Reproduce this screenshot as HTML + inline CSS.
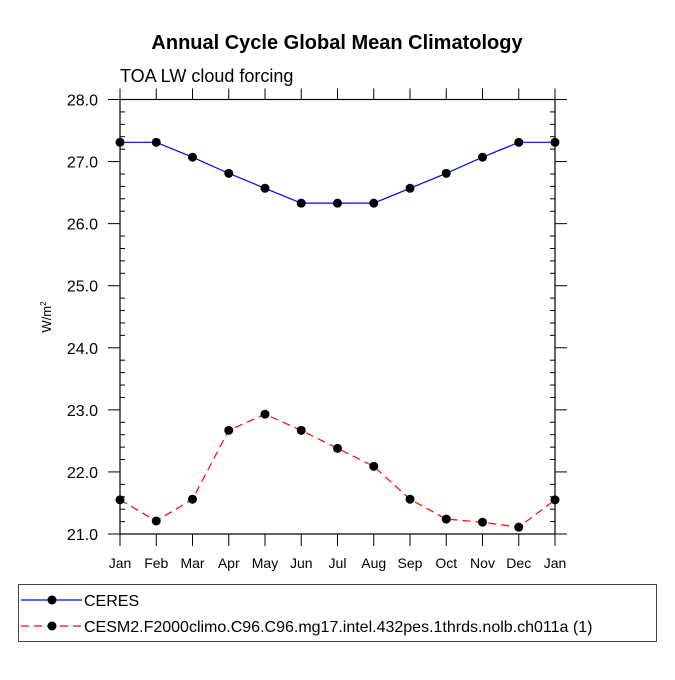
<!DOCTYPE html>
<html><head><meta charset="utf-8"><style>
body{margin:0;background:#fff;}
svg text{font-family:"Liberation Sans",Arial,sans-serif;}
</style></head><body>
<svg id="chart" width="675" height="675" xmlns="http://www.w3.org/2000/svg">
<text x="337" y="49" text-anchor="middle" font-size="20" font-weight="bold">Annual Cycle Global Mean Climatology</text>
<text x="120" y="82" font-size="18">TOA LW cloud forcing</text>
<g id="axes"></g>
<g id="series"></g>
<rect x="18.5" y="584.5" width="638" height="57" fill="none" stroke="#444" stroke-width="1"/>
<g>
<line x1="21" y1="600" x2="82" y2="600" stroke="#00f" stroke-width="1.2"/>
<circle cx="52" cy="600" r="4.5" fill="#000"/>
<text x="84" y="606" font-size="16">CERES</text>
</g>
<g>
<line x1="21" y1="626" x2="82" y2="626" stroke="#f00" stroke-width="1.2" stroke-dasharray="8,5"/>
<circle cx="52" cy="626" r="4.5" fill="#000"/>
<text x="84" y="632" font-size="16">CESM2.F2000climo.C96.C96.mg17.intel.432pes.1thrds.nolb.ch011a (1)</text>
</g>
</svg>
<script>
const months=["Jan","Feb","Mar","Apr","May","Jun","Jul","Aug","Sep","Oct","Nov","Dec","Jan"];
const yTicks=[21,22,23,24,25,26,27,28];
const yTickLabels=["21.0","22.0","23.0","24.0","25.0","26.0","27.0","28.0"];
const ceres=[27.31,27.31,27.07,26.81,26.57,26.33,26.33,26.33,26.57,26.81,27.07,27.31,27.31];
const cesm=[21.55,21.21,21.56,22.67,22.93,22.67,22.38,22.09,21.56,21.24,21.19,21.11,21.55];
const X0=120,X1=555,Y0=534,Y1=99.5,YMIN=21,YMAX=28;
const sx=i=>X0+(X1-X0)*i/(months.length-1);
const sy=v=>Y0-(Y0-Y1)*(v-YMIN)/(YMAX-YMIN);
const NS="http://www.w3.org/2000/svg";
function mk(tag,attrs,parent){const e=document.createElementNS(NS,tag);for(const k in attrs)e.setAttribute(k,attrs[k]);parent.appendChild(e);return e;}
const ax=document.getElementById('axes');
const frame=mk('rect',{x:X0,y:Y1,width:X1-X0,height:Y0-Y1,fill:'none',stroke:'#000','stroke-width':1.2},ax);


for(let v=YMIN;v<=YMAX+1e-9;v+=0.2){const y=sy(v);const major=Math.abs(v-Math.round(v))<1e-6;
 if(major){mk('line',{x1:X0-12,y1:y,x2:X0,y2:y,stroke:'#000'},ax);mk('line',{x1:X1,y1:y,x2:X1+12,y2:y,stroke:'#000'},ax);}
 else{mk('line',{x1:X0,y1:y,x2:X0+5,y2:y,stroke:'#000'},ax);mk('line',{x1:X1-5,y1:y,x2:X1,y2:y,stroke:'#000'},ax);}}
yTicks.forEach((v,i)=>{const t=mk('text',{x:98,y:sy(v)+6,'text-anchor':'end','font-size':16},ax);t.textContent=yTickLabels[i];

});
months.forEach((m,i)=>{const x=sx(i);mk('line',{x1:x,y1:Y0,x2:x,y2:Y0+12,stroke:'#000'},ax);mk('line',{x1:x,y1:Y1-11,x2:x,y2:Y1,stroke:'#000'},ax);
const t=mk('text',{x:x,y:568,'text-anchor':'middle','font-size':14},ax);t.textContent=m;

});
const yt=mk('text',{transform:'translate(51,317) rotate(-90)','text-anchor':'middle','font-size':13},ax);
yt.innerHTML='W/m<tspan font-size="8" dy="-5">2</tspan>';


const sg=document.getElementById('series');
function draw(vals,color,dash,name){const g=mk('g',{},sg);


mk('polyline',{points:vals.map((v,i)=>sx(i)+','+sy(v)).join(' '),fill:'none',stroke:color,'stroke-width':1.2,'stroke-dasharray':dash},g);
vals.forEach((v,i)=>{const c=mk('circle',{cx:sx(i),cy:sy(v),r:4.5,fill:'#000'},g);

});}
draw(ceres,'#00f','none','ceres-series');
draw(cesm,'#f00','8,5','cesm2-series');
</script>
</body></html>
